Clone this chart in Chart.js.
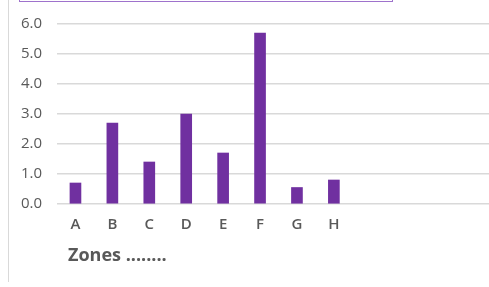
<!DOCTYPE html>
<html>
<head>
<meta charset="utf-8">
<script src="https://cdn.jsdelivr.net/npm/chart.js@4/dist/chart.umd.min.js"></script>
<style>
  html, body { margin: 0; padding: 0; background: #fff; overflow: hidden; width: 489px; height: 287px; }
  #wrap { position: absolute; left: 0; top: 0; width: 500px; height: 287px; }
  #box { position: absolute; left: 19px; top: -30px; width: 372px; height: 30px; border: 1.5px solid #9e72cc; }
  #vline { position: absolute; left: 8px; top: 0; width: 1px; height: 282px; background: #d9d9d9; }
</style>
</head>
<body>
<div id="vline"></div>
<div id="box"></div>
<div id="wrap"><canvas id="c" width="500" height="287"></canvas></div>
<script>
const categories = ["A", "B", "C", "D", "E", "F", "G", "H", "", "", "", ""];
const values = [0.7, 2.7, 1.4, 3.0, 1.7, 5.7, 0.55, 0.8, null, null, null, null];
const yTicks = [0, 1, 2, 3, 4, 5, 6];
const xTitle = "Zones ........";

const titlePlugin = {
  id: 'zonesTitle',
  afterDraw(chart) {
    const ctx = chart.ctx;
    ctx.save();
    ctx.font = 'bold 18px "Open Sans"';
    ctx.fillStyle = '#595959';
    ctx.textBaseline = 'alphabetic';
    ctx.textAlign = 'left';
    ctx.fillText(xTitle, chart.chartArea.left + 11, 261);
    ctx.restore();
  }
};

new Chart(document.getElementById('c'), {
  type: 'bar',
  data: {
    labels: categories,
    datasets: [{
      data: values,
      backgroundColor: '#7030a0',
      barThickness: 11
    }]
  },
  options: {
    responsive: false,
    animation: false,
    layout: { padding: { top: 21, right: 0, left: 0, bottom: 0 } },
    plugins: { legend: { display: false }, tooltip: { enabled: false } },
    scales: {
      x: {
        grid: { display: false, drawTicks: false },
        border: { display: false },
        ticks: { color: '#595959', font: { family: 'Open Sans', size: 15, weight: '600' }, padding: 12, maxRotation: 0, autoSkip: false },
        afterFit(s) { s.height = 83; }
      },
      y: {
        min: 0, max: 6,
        afterBuildTicks(s) { s.ticks = yTicks.map(v => ({ value: v })); },
        grid: { color: '#d9d9d9', lineWidth: 1.5, drawTicks: false },
        border: { display: false },
        ticks: { color: '#595959', font: { family: 'Open Sans', size: 15 }, padding: 15, callback: v => Number(v).toFixed(1) },
        afterFit(s) { s.width = 57; }
      }
    }
  },
  plugins: [titlePlugin]
});
</script>
</body>
</html>
